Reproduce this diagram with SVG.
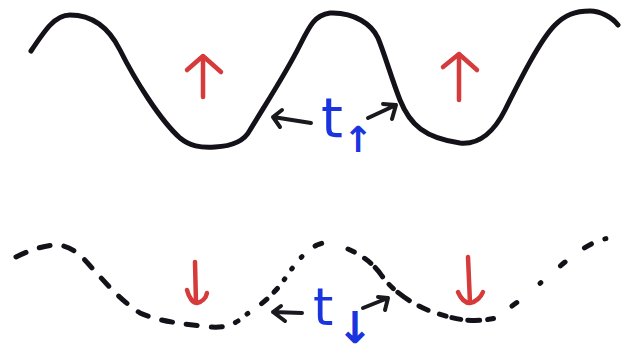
<svg xmlns="http://www.w3.org/2000/svg" width="635" height="354" viewBox="0 0 635 354">
<defs>
<style>
.wave{fill:none;stroke:#141218;stroke-width:5;stroke-linecap:round;stroke-linejoin:round}
.dash{fill:none;stroke:#141218;stroke-width:5;stroke-linecap:round}
.red{fill:none;stroke:#d63a3a;stroke-width:4.5;stroke-linecap:round;stroke-linejoin:round}
.conn{fill:none;stroke:#1a1a1e;stroke-width:4;stroke-linecap:round;stroke-linejoin:round}
.lbl{font-family:"DejaVu Sans",sans-serif;fill:#1a35e0}
.sub{font-family:"DejaVu Sans",sans-serif;font-weight:bold;fill:#1a35e0;text-anchor:middle}
</style>
</defs>
<rect width="635" height="354" fill="#ffffff"/>
<g id="wave-top">
<path class="wave" d="M31,51 C45,30 55,15 70,15 C95,15 110,30 120,50 C135,80 160,120 180,138 C190,146 200,148 215,147 C235,146 245,140 250,130 C265,105 285,75 300,45 C310,25 315,15 330,13 C355,12 372,25 378,38 C385,55 392,80 400,100 C410,125 425,138 460,143 C480,145 495,130 505,110 C520,80 540,40 555,25 C565,15 575,11 590,11 C600,11 612,17 618,25"/>
</g>
<g id="wave-bottom">
<path class="dash" stroke-dasharray="11 14" d="M16,257 C30,250 45,245 57,245 C72,246 82,256 92,268 C105,282 120,300 140,313 C160,322 185,324 210,327 C222,328 230,326 238,321"/>
<path class="dash" stroke-dasharray="1 17 7 10 5 11 1 12 1 14" d="M247,314 C258,307 270,298 282,283 C292,268 303,252 317,245 C322,243 326,242 331,242"/>
<path class="dash" stroke-dasharray="7 12 8 6 12 10 6 6 14 11 10 12 7 6 9" d="M348,249 C362,255 375,265 382,276 C392,290 410,303 430,311 C450,318 470,324 496,318"/>
<path class="dash" stroke-dasharray="6 30 1 26 6 24 8 14 1 17 1" d="M512,306 C525,297 540,283 550,275 C565,262 580,248 600,240 C608,238 614,237 618,237"/>
</g>
<g id="arrow-up-left">
<path class="red" d="M203,97 L203,56 M187,70 L203,56 L221,72"/>
</g>
<g id="arrow-up-right">
<path class="red" d="M459,100 L459,54 M443,67 L459,54 L477,70"/>
</g>
<g id="arrow-down-left">
<path class="red" d="M195,262 L196,303 M187,290 C189,298 193,303 197,303 C202,302 206,298 207,293"/>
</g>
<g id="arrow-down-right">
<path class="red" d="M468,257 L470,303 M458,292 C461,299 465,303 470,303 C476,302 481,297 483,292"/>
</g>
<g id="label-top">
<text class="lbl" x="321" y="137" font-size="56">t</text>
<text class="sub" x="358" y="152" font-size="36">↑</text>
</g>
<g id="label-bottom">
<text class="lbl" x="313" y="325" font-size="52">t</text>
<text class="sub" x="355" y="343" font-size="44">↓</text>
</g>
<g id="connectors">
<path class="conn" d="M311,123 L273,117 M282,110 L273,117 L280,127"/>
<path class="conn" d="M368,118 L396,105 M383,104 L396,105 L392,119"/>
<path class="conn" d="M302,313 L273,312 M281,306 L273,312 L285,321"/>
<path class="conn" d="M363,308 L388,298 M378,297 L388,298 L385,310"/>
</g>
</svg>
